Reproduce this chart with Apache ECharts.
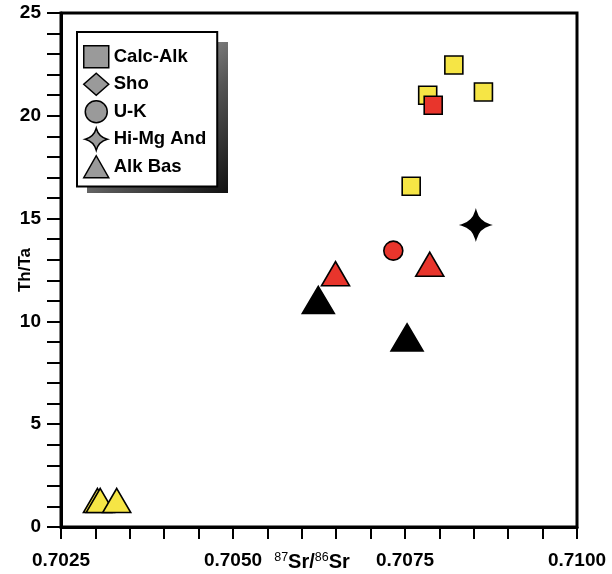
<!DOCTYPE html>
<html>
<head>
<meta charset="utf-8">
<script src="https://cdn.jsdelivr.net/npm/echarts@6/dist/echarts.min.js"></script>
<style>
  html, body { margin: 0; padding: 0; background: #fff; }
  #chart { width: 612px; height: 574px; }
</style>
</head>
<body>
<div id="chart"></div>
<script>
// series names (legend order)
var seriesNames = ['Calc-Alk', 'Sho', 'U-K', 'Hi-Mg And', 'Alk Bas'];

// Calc-Alk squares
var calcAlkX = [0.70821, 0.70783, 0.70864, 0.70759, 0.70791];
var calcAlkY = [22.47, 21.0, 21.16, 16.57, 20.51];
var calcAlkGroup = ['Y', 'Y', 'Y', 'Y', 'R'];

// Sho diamonds (none plotted)
var shoX = [];
var shoY = [];

// U-K circles
var ukX = [0.70733];
var ukY = [13.44];
var ukGroup = ['R'];

// Hi-Mg And stars
var himgX = [0.70853];
var himgY = [14.69];
var himgGroup = ['K'];

// Alk Bas triangles
var alkBasX = [0.70649, 0.70786, 0.70624, 0.70753, 0.70303, 0.70307, 0.70331];
var alkBasY = [12.32, 12.78, 11.04, 9.22, 1.29, 1.29, 1.29];
var alkBasGroup = ['R', 'R', 'K', 'K', 'Y', 'Y', 'Y'];

var colors = { Y: '#f6e545', R: '#e8352c', K: '#000000' };
var starPath = 'path://M0,-14 Q3,-3 14,0 Q3,3 0,14 Q-3,3 -14,0 Q-3,-3 0,-14 Z';
var FONT = '"Liberation Sans", Arial, sans-serif';

function pts(xs, ys, groups, sizeFn) {
  return xs.map(function (x, i) {
    var g = groups[i];
    var item = {
      value: [x, ys[i]],
      itemStyle: { color: colors[g] }
    };
    if (sizeFn) item.symbolSize = sizeFn(g);
    return item;
  });
}

var chart = echarts.init(document.getElementById('chart'));
var baseStyle = { color: '#9a9a9a', borderColor: '#000', borderWidth: 1.6, opacity: 1 };

var option = {
  animation: false,
  backgroundColor: '#fff',
  grid: {
    left: 61, top: 13, right: 35, bottom: 47,
    outerBoundsMode: 'none',
    containLabel: false,
    show: true, borderColor: '#000', borderWidth: 3
  },
  legend: {
    orient: 'vertical',
    left: 77, top: 32,
    padding: [13, 11, 8, 6],
    itemWidth: 25, itemHeight: 22, itemGap: 4,
    backgroundColor: '#fff',
    borderColor: '#000', borderWidth: 2,
    itemStyle: { color: '#9a9a9a', borderColor: '#000', borderWidth: 1.5 },
    textStyle: { fontFamily: FONT, fontWeight: 'bold', fontSize: 18.5, color: '#000' },
    data: [
      { name: 'Calc-Alk', icon: 'rect' },
      { name: 'Sho', icon: 'diamond' },
      { name: 'U-K', icon: 'circle' },
      { name: 'Hi-Mg And', icon: starPath },
      { name: 'Alk Bas', icon: 'triangle' }
    ],
    selectedMode: false,
    z: 10
  },
  graphic: [{
    type: 'rect',
    left: 87, top: 42,
    shape: { width: 141, height: 151 },
    style: {
      fill: new echarts.graphic.LinearGradient(0, 0, 1, 1, [
        { offset: 0, color: '#d8d8d8' },
        { offset: 0.6, color: '#555555' },
        { offset: 1, color: '#111111' }
      ])
    },
    z: 5
  }],
  xAxis: {
    type: 'value',
    min: 0.7025, max: 0.71, interval: 0.0005,
    name: '{sup|87}{b|Sr/}{sup|86}{b|Sr}',
    nameLocation: 'middle',
    nameGap: 24,
    nameMoveOverlap: false,
    nameTextStyle: {
      padding: [0, 14, 0, 0],
      rich: {
        b: { fontFamily: FONT, fontWeight: 'bold', fontSize: 20, color: '#000', lineHeight: 22 },
        sup: { fontFamily: FONT, fontSize: 12.5, color: '#000', verticalAlign: 'top', lineHeight: 14 }
      }
    },
    axisLine: { lineStyle: { color: '#000', width: 3 } },
    axisTick: { inside: false, length: 12, lineStyle: { color: '#000', width: 2 } },
    axisLabel: {
      margin: 24,
      fontFamily: FONT, fontWeight: 'bold', fontSize: 19, color: '#000',
      formatter: function (v) {
        var k = Math.round(v * 10000);
        return k % 25 === 0 ? v.toFixed(4) : '';
      }
    },
    splitLine: { show: false }
  },
  yAxis: {
    type: 'value',
    min: 0, max: 25, interval: 1,
    name: 'Th/Ta',
    nameLocation: 'middle',
    nameRotate: 90,
    nameGap: 27,
    nameMoveOverlap: false,
    nameTextStyle: { fontFamily: FONT, fontWeight: 'bold', fontSize: 17, color: '#000' },
    axisLine: { lineStyle: { color: '#000', width: 3 } },
    axisTick: { inside: false, length: 14, lineStyle: { color: '#000', width: 2 } },
    axisLabel: {
      margin: 20,
      fontFamily: FONT, fontWeight: 'bold', fontSize: 19, color: '#000',
      formatter: function (v) { return v % 5 === 0 ? String(v) : ''; }
    },
    splitLine: { show: false }
  },
  series: [
    {
      name: seriesNames[0], type: 'scatter', symbol: 'rect', symbolSize: 18,
      itemStyle: baseStyle,
      data: pts(calcAlkX, calcAlkY, calcAlkGroup)
    },
    {
      name: seriesNames[1], type: 'scatter', symbol: 'diamond', symbolSize: 24,
      itemStyle: baseStyle,
      data: pts(shoX, shoY, [])
    },
    {
      name: seriesNames[2], type: 'scatter', symbol: 'circle', symbolSize: 19,
      itemStyle: baseStyle,
      data: pts(ukX, ukY, ukGroup)
    },
    {
      name: seriesNames[3], type: 'scatter', symbol: starPath, symbolSize: 28,
      itemStyle: baseStyle,
      data: pts(himgX, himgY, himgGroup)
    },
    {
      name: seriesNames[4], type: 'scatter', symbol: 'triangle', symbolSize: [28, 24],
      itemStyle: baseStyle,
      data: pts(alkBasX, alkBasY, alkBasGroup, function (g) {
        return g === 'K' ? [32, 27] : [28, 24];
      })
    }
  ]
};

chart.setOption(option);
</script>
</body>
</html>
